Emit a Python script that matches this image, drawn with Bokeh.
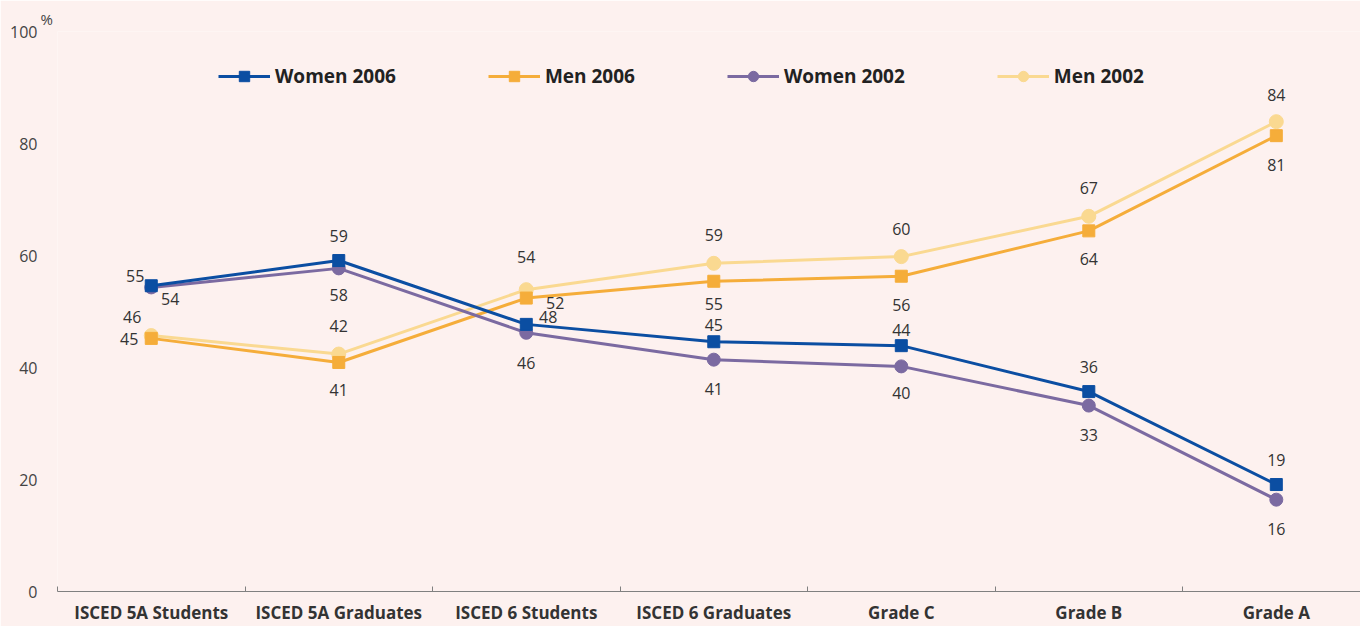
from bokeh.plotting import figure
from bokeh.models import Range1d, FixedTicker, Legend, LegendItem, ColumnDataSource
from bokeh.embed import file_html
from bokeh.resources import INLINE
from bokeh.core.properties import value

categories = ["ISCED 5A Students", "ISCED 5A Graduates", "ISCED 6 Students",
              "ISCED 6 Graduates", "Grade C", "Grade B", "Grade A"]
women_2006 = [54.6, 59.1, 47.7, 44.6, 43.9, 35.7, 19.1]
men_2006 = [45.2, 40.9, 52.4, 55.4, 56.3, 64.4, 81.4]
women_2002 = [54.3, 57.7, 46.2, 41.4, 40.2, 33.2, 16.4]
men_2002 = [45.7, 42.4, 53.9, 58.6, 59.8, 67.0, 83.9]
y_ticks = [0, 20, 40, 60, 80, 100]

# label placement (screen pixels, relative to each point)
w06_dx = [-16, 0, 22, 0, 0, 0, 0]
w06_dy = [-10, -25, -7, -17, -16, -25, -25]
w02_dx = [19, 0, 0, 0, 0, 0, 0]
w02_dy = [12, 27, 30, 29, 27, 29, 29]
m06_dx = [-22, 0, 29, 0, 0, 0, 0]
m06_dy = [1, 28, 5, 23, 29, 28, 29]
m02_dx = [-19, 0, 0, 0, 0, 0, 0]
m02_dy = [-19, -28, -33, -28, -28, -28, -27]

BG = "#fdf1ef"
FONT = "Open Sans"

xs = list(range(len(categories)))

p = figure(width=1360, height=626, output_backend="svg", toolbar_location=None,
           x_range=Range1d(-0.5, 6.449), y_range=Range1d(0, 100),
           min_border_left=57, min_border_right=0, min_border_top=31, min_border_bottom=35,
           background_fill_color=BG, border_fill_color=BG, outline_line_color=None)
p.grid.visible = False

p.title.text = "%"
p.title.align = "left"
p.title.offset = -17
p.title.text_font = FONT
p.title.text_font_style = "normal"
p.title.text_font_size = "15px"
p.title.text_color = "#444444"
p.title.standoff = 6

p.xaxis.ticker = FixedTicker(ticks=xs, minor_ticks=[i - 0.5 for i in xs] + [6.5])
p.xaxis.major_label_overrides = {i: c for i, c in enumerate(categories)}
p.xaxis.major_tick_line_color = None
p.xaxis.minor_tick_in = 5
p.xaxis.minor_tick_out = 0
p.xaxis.minor_tick_line_color = "#808080"
p.xaxis.axis_line_color = "#808080"
p.xaxis.axis_line_width = 1.2
p.xaxis.major_label_text_font = FONT
p.xaxis.major_label_text_font_style = "bold"
p.xaxis.major_label_text_font_size = "17px"
p.xaxis.major_label_text_color = "#333333"
p.xaxis.major_label_standoff = 3

p.yaxis.ticker = FixedTicker(ticks=y_ticks)
p.yaxis.axis_line_color = None
p.yaxis.major_tick_line_color = None
p.yaxis.minor_tick_line_color = None
p.yaxis.major_label_text_font = FONT
p.yaxis.major_label_text_font_size = "16px"
p.yaxis.major_label_text_color = "#444444"
p.yaxis.major_label_standoff = 14

series = [
    ("Men 2002", men_2002, "#fad991", "circle", 14, m02_dx, m02_dy),
    ("Men 2006", men_2006, "#f5ad3a", "square", 12, m06_dx, m06_dy),
    ("Women 2002", women_2002, "#7b6aa1", "circle", 13, w02_dx, w02_dy),
    ("Women 2006", women_2006, "#0b4ea2", "square", 12, w06_dx, w06_dy),
]

items = {}
for name, vals, color, marker, size, dx, dy in series:
    src = ColumnDataSource(dict(x=xs, y=vals))
    ln = p.line("x", "y", source=src, line_color=color, line_width=3)
    sc = p.scatter("x", "y", source=src, marker=marker, size=size,
                   fill_color=color, line_color=color)
    items[name] = [ln, sc]

for name, vals, color, marker, size, dx, dy in series:
    tsrc = ColumnDataSource(dict(x=xs, y=vals, t=[str(int(round(v))) for v in vals],
                                 dx=dx, dy=dy))
    p.text("x", "y", text="t", source=tsrc, x_offset="dx", y_offset="dy",
           text_align="center", text_baseline="middle",
           text_font=value(FONT), text_font_size="16px", text_color="#333333")

order = ["Women 2006", "Men 2006", "Women 2002", "Men 2002"]
legend = Legend(items=[LegendItem(label=n, renderers=items[n]) for n in order],
                orientation="horizontal", location=(161, 502),
                glyph_width=52, glyph_height=26, label_standoff=5, spacing=92,
                padding=0, margin=0, border_line_color=None,
                background_fill_alpha=0,
                label_text_font=FONT, label_text_font_style="bold",
                label_text_font_size="19px", label_text_color="#222222")
p.add_layout(legend, "center")

open("out.html", "w").write(file_html(p, INLINE))
